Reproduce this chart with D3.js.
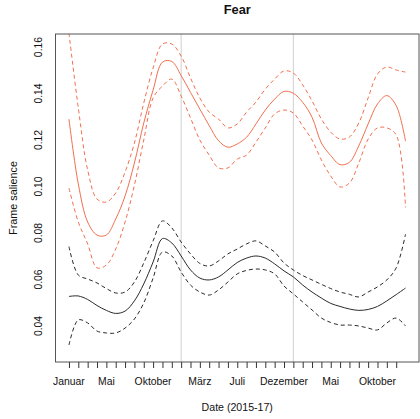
<!DOCTYPE html>
<html>
<head>
<meta charset="utf-8">
<script src="https://cdn.jsdelivr.net/npm/d3@7"></script>
<style>
  body { margin: 0; background: #fff; }
  text { font-family: "Liberation Sans", Arial, sans-serif; fill: #111; }
</style>
</head>
<body>
<script>
// month index 0 = Januar 2015
let months = d3.range(0, 37);
let tickMonths = d3.range(0, 36);
let labelMonths = [0, 4, 9, 14, 18, 23, 28, 33];
let labelNames = ["Januar", "Mai", "Oktober", "März", "Juli", "Dezember", "Mai", "Oktober"];
let yearLines = [12, 24];
let yTicks = [0.04, 0.06, 0.08, 0.10, 0.12, 0.14, 0.16];

let redFit = [0.1290, 0.1011, 0.0847, 0.0791, 0.0791, 0.0860, 0.0959, 0.1101, 0.1273, 0.1415,
  0.1535, 0.1538, 0.1477, 0.1405, 0.1333, 0.1262, 0.1197, 0.1169, 0.1183, 0.1212,
  0.1269, 0.1329, 0.1376, 0.1409, 0.1401, 0.1362, 0.1298, 0.1187, 0.1133, 0.1094,
  0.1104, 0.1175, 0.1269, 0.1355, 0.1391, 0.1348, 0.1195];
let redUpper = [0.1660, 0.1338, 0.1071, 0.0946, 0.0933, 0.0972, 0.1062, 0.1187, 0.1359, 0.1510,
  0.1613, 0.1613, 0.1561, 0.1467, 0.1381, 0.1320, 0.1290, 0.1252, 0.1269, 0.1320,
  0.1363, 0.1419, 0.1462, 0.1497, 0.1488, 0.1437, 0.1368, 0.1290, 0.1234, 0.1204,
  0.1213, 0.1273, 0.1381, 0.1484, 0.1514, 0.1501, 0.1492];
let redLower = [0.0993, 0.0847, 0.0753, 0.0650, 0.0662, 0.0731, 0.0847, 0.1006, 0.1200, 0.1381,
  0.1432, 0.1462, 0.1389, 0.1295, 0.1200, 0.1135, 0.1080, 0.1080, 0.1118, 0.1135,
  0.1191, 0.1252, 0.1312, 0.1329, 0.1316, 0.1260, 0.1200, 0.1114, 0.1045, 0.0998,
  0.1015, 0.1101, 0.1204, 0.1252, 0.1252, 0.1222, 0.0910];

let blackFit = [0.0527, 0.0529, 0.0514, 0.0488, 0.0467, 0.0454, 0.0464, 0.0508, 0.0581, 0.0675,
  0.0776, 0.0757, 0.0701, 0.0641, 0.0606, 0.0598, 0.0611, 0.0641, 0.0673, 0.0692,
  0.0701, 0.0692, 0.0667, 0.0637, 0.0611, 0.0576, 0.0546, 0.0520, 0.0497, 0.0484,
  0.0473, 0.0467, 0.0471, 0.0484, 0.0508, 0.0535, 0.0563];
let blackUpper = [0.0742, 0.0619, 0.0602, 0.0585, 0.0561, 0.0542, 0.0546, 0.0589, 0.0671, 0.0766,
  0.0852, 0.0822, 0.0761, 0.0710, 0.0669, 0.0658, 0.0680, 0.0710, 0.0731, 0.0753,
  0.0766, 0.0744, 0.0718, 0.0671, 0.0641, 0.0617, 0.0598, 0.0579, 0.0561, 0.0546,
  0.0536, 0.0525, 0.0546, 0.0568, 0.0598, 0.0650, 0.0795];
let blackLower = [0.0318, 0.0426, 0.0413, 0.0378, 0.0370, 0.0370, 0.0391, 0.0430, 0.0499, 0.0606,
  0.0718, 0.0701, 0.0632, 0.0576, 0.0546, 0.0533, 0.0555, 0.0589, 0.0624, 0.0639,
  0.0645, 0.0641, 0.0624, 0.0572, 0.0538, 0.0503, 0.0469, 0.0434, 0.0415, 0.0404,
  0.0404, 0.0400, 0.0391, 0.0383, 0.0413, 0.0434, 0.0400];

let w = 420, h = 419;
let pl = 55.5, pr = 419, pt = 34, pb = 362;
let red = "#f0704f", dark = "#2a2a2a";

let svg = d3.select("body").append("svg").attr("width", w).attr("height", h);

let x = d3.scaleLinear().domain([-1.44, 37.44]).range([pl, pr]);
let y = d3.scaleLinear().domain([0.0245, 0.1656]).range([pb, pt]);

svg.append("clipPath").attr("id", "plot")
  .append("rect").attr("x", pl).attr("y", pt)
  .attr("width", pr - pl).attr("height", pb - pt);

// year separators
svg.selectAll("line.year").data(yearLines).enter().append("line")
  .attr("class", "year")
  .attr("x1", d => x(d)).attr("x2", d => x(d))
  .attr("y1", pt).attr("y2", pb)
  .attr("stroke", "#cfcfcf").attr("stroke-width", 1);

let line = d3.line().x((d, i) => x(months[i])).y(d => y(d)).curve(d3.curveCatmullRom);

let series = [
  { v: redUpper, c: red, dash: "4,3" },
  { v: redLower, c: red, dash: "4,3" },
  { v: redFit, c: red, dash: null },
  { v: blackUpper, c: dark, dash: "4,3" },
  { v: blackLower, c: dark, dash: "4,3" },
  { v: blackFit, c: dark, dash: null },
];

svg.append("g").attr("clip-path", "url(#plot)")
  .selectAll("path").data(series).enter().append("path")
  .attr("d", d => line(d.v))
  .attr("fill", "none")
  .attr("stroke", d => d.c)
  .attr("stroke-width", 1)
  .attr("stroke-dasharray", d => d.dash);

// box
svg.append("rect")
  .attr("x", pl).attr("y", pt)
  .attr("width", pr - pl).attr("height", pb - pt)
  .attr("fill", "none").attr("stroke", "#555").attr("stroke-width", 1);

// x axis
let xAxis = d3.axisBottom(x).tickValues(tickMonths).tickSize(6).tickFormat("");
let gx = svg.append("g").attr("transform", `translate(0,${pb})`).call(xAxis);
gx.select(".domain").remove();
gx.selectAll("line").attr("stroke", "#333");

svg.selectAll("text.xl").data(labelMonths).enter().append("text")
  .attr("class", "xl")
  .attr("x", d => x(d)).attr("y", 384.5)
  .attr("text-anchor", "middle").attr("font-size", 10.4)
  .text((d, i) => labelNames[i]);

// y labels (rotated, no ticks)
svg.selectAll("text.yl").data(yTicks).enter().append("text")
  .attr("class", "yl")
  .attr("transform", d => `translate(41.5,${y(d)}) rotate(-90)`)
  .attr("text-anchor", "middle").attr("font-size", 10.4)
  .text(d => d.toFixed(2));

svg.append("text")
  .attr("x", (pl + pr) / 2).attr("y", 410.5)
  .attr("text-anchor", "middle").attr("font-size", 10.6)
  .text("Date (2015-17)");

svg.append("text")
  .attr("transform", `translate(16.5,${(pt + pb) / 2}) rotate(-90)`)
  .attr("text-anchor", "middle").attr("font-size", 10.8)
  .text("Frame salience");

svg.append("text")
  .attr("x", (pl + pr) / 2).attr("y", 14.3)
  .attr("text-anchor", "middle").attr("font-size", 12.8).attr("font-weight", "bold")
  .text("Fear");
</script>
</body>
</html>
